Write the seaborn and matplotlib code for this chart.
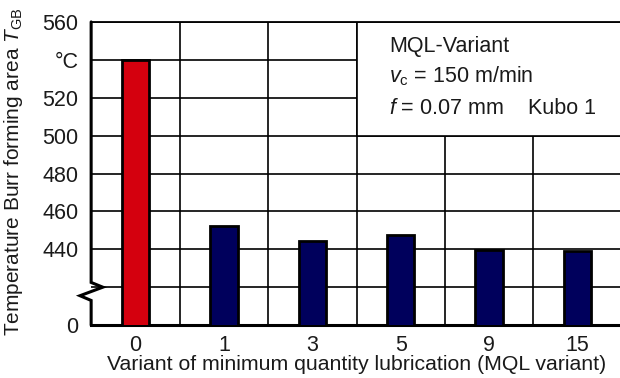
import matplotlib
matplotlib.use("Agg")
import matplotlib.pyplot as plt
import matplotlib.transforms as mtrans
from matplotlib.patches import Rectangle
import seaborn as sns
import pandas as pd

# values
variants = ["0", "1", "3", "5", "9", "15"]
temps = [540, 452.5, 444.5, 447.5, 439.5, 439]
bar_colors = ["#d4000e", "#00005c", "#00005c", "#00005c", "#00005c", "#00005c"]
y_ticks = [400, 420, 440, 460, 480, 500, 520, 540, 560]
y_labels = ["0", "", "440", "460", "480", "500", "520", "°C", "560"]

sns.set_style("white")
plt.rcParams["font.family"] = ["Liberation Sans", "DejaVu Sans"]
plt.rcParams["mathtext.fontset"] = "custom"
plt.rcParams["mathtext.rm"] = "Liberation Sans"
plt.rcParams["mathtext.it"] = "Liberation Sans:italic"

fs = 15.5
txt = "#1a1a1a"
df = pd.DataFrame({"variant": variants, "temp": temps})

fig = plt.figure(figsize=(6.2, 3.78), dpi=100)
ax = fig.add_axes([0.147, 0.14, 0.856, 0.802])
sns.barplot(data=df, x="variant", y="temp", hue="variant", palette=bar_colors,
            legend=False, width=0.31, edgecolor="black", linewidth=2.0,
            saturation=1, ax=ax, zorder=3)

ax.set_xlim(-0.5, len(variants) - 0.5)
ax.set_ylim(y_ticks[0], y_ticks[-1])
ax.set_yticks(y_ticks)
ax.set_yticklabels(y_labels)
ax.set_xticks([i + 0.5 for i in range(len(variants) - 1)], minor=True)
ax.set_axisbelow(True)
ax.grid(which="minor", axis="x", color="black", lw=1.2)
ax.grid(which="major", axis="y", color="black", lw=1.2)
ax.grid(which="major", axis="x", visible=False)
ax.tick_params(axis="both", which="both", length=0, labelsize=fs, colors=txt)
ax.tick_params(axis="x", pad=7)
ax.tick_params(axis="y", pad=9)

for s in ["top", "right"]:
    ax.spines[s].set_linewidth(1.3)
    ax.spines[s].set_color("black")
ax.spines["bottom"].set_linewidth(2.2)
ax.spines["bottom"].set_color("black")
ax.spines["left"].set_visible(False)

# left axis with break mark
tr = mtrans.blended_transform_factory(ax.transAxes, ax.transData)
ax.plot([0, 0, 0.022, -0.021, 0, 0], [560, 422.5, 420, 415.5, 413, 400],
        color="black", lw=2.2, transform=tr, clip_on=False, zorder=5,
        solid_joinstyle="miter")

# info box
ax.add_patch(Rectangle((2.5, 500), 3.2, 60, facecolor="white", edgecolor="black",
                       lw=1.2, zorder=1))
ax.text(0.561, 0.918, "MQL-Variant", transform=ax.transAxes, fontsize=fs,
        va="center", color=txt)
ax.text(0.561, 0.82, r"$v_{\mathrm{c}}$ = 150 m/min", transform=ax.transAxes,
        fontsize=fs, va="center", color=txt)
ax.text(0.561, 0.714, r"$f$ = 0.07 mm", transform=ax.transAxes, fontsize=fs,
        va="center", color=txt)
ax.text(0.823, 0.714, "Kubo 1", transform=ax.transAxes, fontsize=fs,
        va="center", color=txt)

ax.set_xlabel("Variant of minimum quantity lubrication (MQL variant)",
              fontsize=15.3, color=txt)
ax.set_ylabel(r"Temperature Burr forming area $T_{\mathrm{GB}}$",
              fontsize=15, color=txt)
ax.xaxis.set_label_coords(0.5, -0.098)
ax.yaxis.set_label_coords(-0.124, 0.505)

fig.savefig("out.png", dpi=100)
